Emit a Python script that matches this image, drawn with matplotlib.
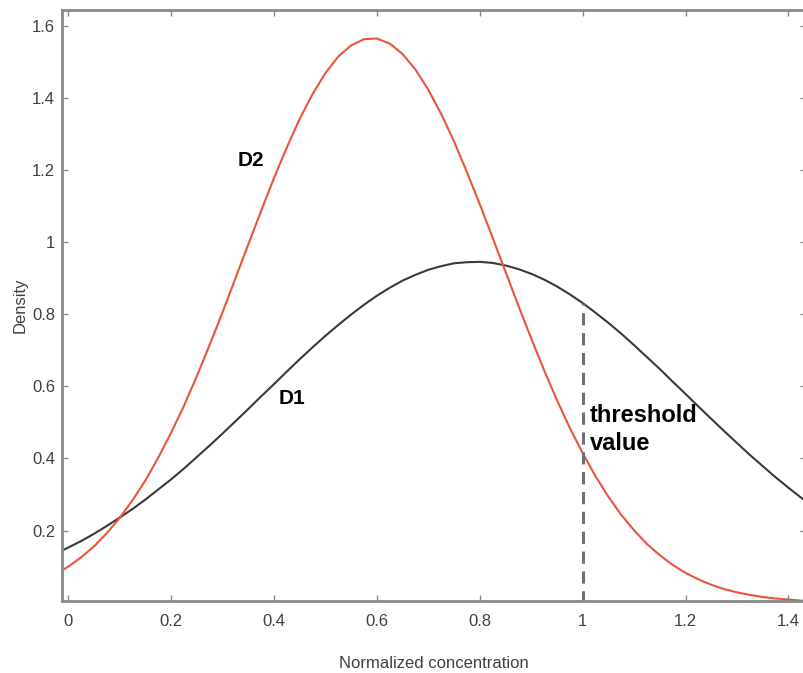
import numpy as np
import matplotlib
matplotlib.use('Agg')
import matplotlib.pyplot as plt

# values
x = [-0.025, 0.0, 0.025, 0.05, 0.075, 0.1, 0.125, 0.15, 0.175, 0.2,
     0.225, 0.25, 0.275, 0.3, 0.325, 0.35, 0.375, 0.4, 0.425, 0.45,
     0.475, 0.5, 0.525, 0.55, 0.575, 0.6, 0.625, 0.65, 0.675, 0.7,
     0.725, 0.75, 0.775, 0.8, 0.825, 0.85, 0.875, 0.9, 0.925, 0.95,
     0.975, 1.0, 1.025, 1.05, 1.075, 1.1, 1.125, 1.15, 1.175, 1.2,
     1.225, 1.25, 1.275, 1.3, 1.325, 1.35, 1.375, 1.4, 1.425, 1.45]

d1 = [0.136, 0.153, 0.171, 0.191, 0.213, 0.236, 0.260, 0.286, 0.314, 0.342,
      0.372, 0.404, 0.436, 0.469, 0.503, 0.537, 0.572, 0.606, 0.641, 0.675,
      0.708, 0.740, 0.770, 0.799, 0.826, 0.851, 0.873, 0.893, 0.909, 0.923,
      0.933, 0.941, 0.944, 0.945, 0.942, 0.935, 0.925, 0.912, 0.896, 0.877,
      0.855, 0.831, 0.804, 0.776, 0.746, 0.714, 0.681, 0.648, 0.613, 0.579,
      0.544, 0.510, 0.476, 0.443, 0.410, 0.379, 0.348, 0.319, 0.291, 0.265]

d2 = [0.079, 0.100, 0.126, 0.156, 0.193, 0.235, 0.284, 0.339, 0.402, 0.471,
      0.546, 0.628, 0.715, 0.805, 0.899, 0.993, 1.086, 1.177, 1.262, 1.341,
      1.410, 1.468, 1.514, 1.545, 1.562, 1.564, 1.550, 1.521, 1.478, 1.422,
      1.355, 1.279, 1.194, 1.105, 1.012, 0.918, 0.824, 0.733, 0.645, 0.562,
      0.485, 0.415, 0.351, 0.294, 0.244, 0.201, 0.163, 0.132, 0.105, 0.083,
      0.065, 0.050, 0.038, 0.029, 0.022, 0.016, 0.012, 0.009, 0.006, 0.005]

threshold = 1.0
threshold_density = 0.831

xticks = [0, 0.2, 0.4, 0.6, 0.8, 1.0, 1.2, 1.4]
xticklabels = ['0', '0.2', '0.4', '0.6', '0.8', '1', '1.2', '1.4']
yticks = [0.2, 0.4, 0.6, 0.8, 1.0, 1.2, 1.4, 1.6]
yticklabels = ['0.2', '0.4', '0.6', '0.8', '1', '1.2', '1.4', '1.6']

plt.rcParams['font.family'] = ['Liberation Sans', 'DejaVu Sans']

fig = plt.figure(figsize=(8.04, 6.73), dpi=100)
ax = fig.add_axes([62/804, 1 - 601/673, 1 - 62/804 + 0.003, (601 - 10)/673])

ax.plot(x, d1, color='#3a3a3a', linewidth=1.5)
ax.plot(x, d2, color='#e8553c', linewidth=1.5)
ax.plot([threshold, threshold], [0, threshold_density], color='#707070',
        linewidth=2.2, linestyle=(0, (4, 2.5)))

ax.text(0.330, 1.211, 'D2', fontsize=15, fontweight='bold', color='black', va='baseline')
ax.text(0.410, 0.551, 'D1', fontsize=15, fontweight='bold', color='black', va='baseline')
ax.text(1.0136, 0.5015, 'threshold', fontsize=17, fontweight='bold', color='black', va='baseline')
ax.text(1.0136, 0.424, 'value', fontsize=17, fontweight='bold', color='black', va='baseline')

ax.set_xlim(-0.012, 1.435)
ax.set_ylim(0.005, 1.643)
ax.set_xticks(xticks)
ax.set_xticklabels(xticklabels)
ax.set_yticks(yticks)
ax.set_yticklabels(yticklabels)

ax.tick_params(direction='in', length=4, width=1, color='#888888',
               labelcolor='#404040', labelsize=12, top=True, right=True)
ax.tick_params(axis='x', pad=9)
ax.tick_params(axis='y', pad=5)
for s in ax.spines.values():
    s.set_color('#8a8a8a')
    s.set_linewidth(2)

ax.set_xlabel('Normalized concentration', fontsize=12, color='#404040', labelpad=20)
ax.set_ylabel('Density', fontsize=12, color='#404040', labelpad=3)

fig.savefig('out.png', dpi=100)
